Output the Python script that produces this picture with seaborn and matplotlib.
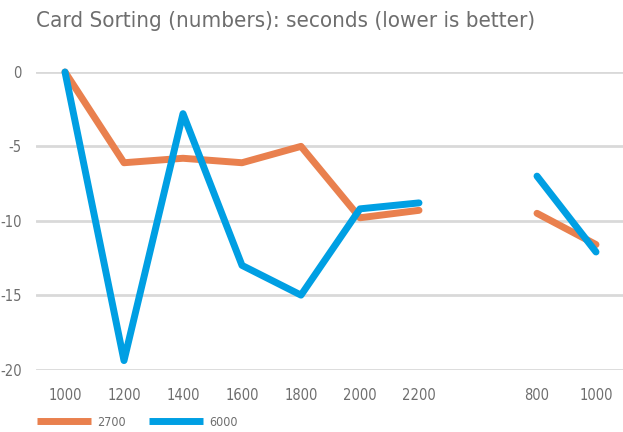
import numpy as np
import pandas as pd
import matplotlib
matplotlib.use("Agg")
import matplotlib.pyplot as plt
import seaborn as sns

title = "Card Sorting (numbers): seconds (lower is better)"
x_labels = ["1000", "1200", "1400", "1600", "1800", "2000", "2200", "", "800", "1000"]
series_names = ["2700", "6000"]
values_2700 = [0, -6.1, -5.8, -6.1, -5.0, -9.8, -9.3, np.nan, -9.5, -11.6]
values_6000 = [0, -19.4, -2.8, -13.0, -15.0, -9.2, -8.8, np.nan, -7.0, -12.1]
y_ticks = [0, -5, -10, -15, -20]
colors = ["#E9804E", "#009FE3"]

rows = []
for name, vals in zip(series_names, [values_2700, values_6000]):
    seg = 0
    for i, v in enumerate(vals):
        if np.isnan(v):
            seg += 1
            continue
        rows.append({"pos": i, "value": v, "series": name, "seg": f"{name}-{seg}"})
df = pd.DataFrame(rows)

sns.set_theme(style="white")
plt.rcParams["font.family"] = ["DejaVu Sans"]
plt.rcParams["font.stretch"] = "condensed"
plt.rcParams["axes.unicode_minus"] = False

fig = plt.figure(figsize=(6.23, 4.32), dpi=100)
ax = fig.add_axes([35.5 / 623, 1 - 369.5 / 432, 590 / 623, (369.5 - 72) / 432])

sns.lineplot(data=df, x="pos", y="value", hue="series", units="seg", estimator=None,
             palette=dict(zip(series_names, colors)), hue_order=series_names,
             linewidth=5, ax=ax, legend=True, sort=False)
for ln in ax.lines:
    ln.set_solid_capstyle("round")
    ln.set_solid_joinstyle("round")
    ln.set_clip_on(False)

ax.set_xlim(-0.5, len(x_labels) - 0.5)
ax.set_ylim(-20, 0)
ax.set_xticks(range(len(x_labels)))
ax.set_xticklabels(x_labels)
ax.set_yticks(y_ticks)
ax.set_yticklabels([str(t) for t in y_ticks])
ax.set_xlabel("")
ax.set_ylabel("")
ax.grid(axis="y", color="#D9D9D9", linewidth=2)
ax.set_axisbelow(True)
for s in ax.spines.values():
    s.set_visible(False)
ax.tick_params(axis="both", length=0, labelsize=10.5, labelcolor="#6E6E6E")
ax.tick_params(axis="x", pad=13)
ax.tick_params(axis="y", pad=10)

handles, labels = ax.get_legend_handles_labels()
ax.get_legend().remove()
for h in handles:
    h.set_linewidth(5)
    h.set_solid_capstyle("butt")
fig.legend(handles, labels, loc="center left", bbox_to_anchor=(37 / 623, 1 - 422 / 432),
           ncol=2, frameon=False, fontsize=9, handlelength=4.35, handletextpad=0.48,
           columnspacing=1.8, borderpad=0, borderaxespad=0, labelcolor="#6E6E6E")

fig.text(36 / 623, 1 - 27 / 432, title, fontsize=16, color="#6E6E6E", va="baseline", ha="left")

fig.savefig("out.png", dpi=100)
